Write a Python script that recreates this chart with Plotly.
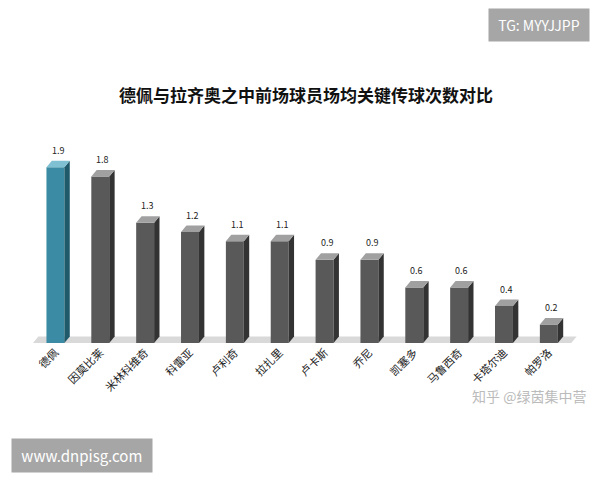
import plotly.graph_objects as go

players = ["德佩","因莫比莱","米林科维奇","科雷亚","卢利奇","拉扎里","卢卡斯","乔尼","凯塞多","马鲁西奇","卡塔尔迪","帕罗洛"]
values = [1.9,1.8,1.3,1.2,1.1,1.1,0.9,0.9,0.6,0.6,0.4,0.2]

front = ["#3a8ba3"] + ["#595959"]*(len(values)-1)
side = ["#1f5a6b"] + ["#333333"]*(len(values)-1)
top = ["#7fc0d2"] + ["#a0a0a0"]*(len(values)-1)

x = list(range(len(values)))
w = 0.4; dx = 0.12; dy = 0.07

fig = go.Figure(go.Bar(x=x, y=values, width=w, marker=dict(color=front, line=dict(width=0)),
                       text=[f"{v:.1f}" for v in values], textposition="none", hoverinfo="skip"))
shapes = []
shapes.append(dict(type="path", xref="x", yref="y", layer="below",
                   path=f"M {-0.5},0 L {len(values)-0.5},0 L {len(values)-0.5+dx},{dy} L {-0.5+dx},{dy} Z",
                   fillcolor="#d9d9d9", line=dict(width=0)))
ann = []
for i, v in enumerate(values):
    r = i + w/2; l = i - w/2
    shapes.append(dict(type="path", xref="x", yref="y",
        path=f"M {r},0 L {r+dx},{dy} L {r+dx},{v+dy} L {r},{v} Z", fillcolor=side[i], line=dict(width=0)))
    shapes.append(dict(type="path", xref="x", yref="y",
        path=f"M {l},{v} L {r},{v} L {r+dx},{v+dy} L {l+dx},{v+dy} Z", fillcolor=top[i], line=dict(width=0)))
    ann.append(dict(x=i+dx/2, y=v+dy, text=f"{v:.1f}", showarrow=False, yanchor="bottom",
                    yshift=2, font=dict(size=9, color="#222")))

ann += [
    dict(xref="paper", yref="paper", x=0.5, y=1.0, yshift=78, text="<b>德佩与拉齐奥之中前场球员场均关键传球次数对比</b>",
         showarrow=False, font=dict(size=17, family="Noto Sans CJK SC", color="#111")),
    dict(xref="paper", yref="paper", x=1.0, y=1.0, xshift=12, yshift=150, xanchor="right", text=" TG: MYYJJPP ",
         showarrow=False, bgcolor="#a6a6a6", font=dict(size=14, color="white"), borderpad=6),
    dict(xref="paper", yref="paper", x=0, y=0, xshift=-22, yshift=-130, xanchor="left", text=" www.dnpisg.com ",
         showarrow=False, bgcolor="#a6a6a6", font=dict(size=15, color="white"), borderpad=6),
    dict(xref="paper", yref="paper", x=1.0, y=0, xshift=10, yshift=-65, xanchor="right", text="知乎 @绿茵集中营",
         showarrow=False, font=dict(size=14, color="#bbbbbb", family="Noto Sans CJK SC")),
]

fig.update_layout(width=600, height=480, margin=dict(l=25, r=30, t=150, b=145),
    paper_bgcolor="white", plot_bgcolor="white", showlegend=False, shapes=shapes, annotations=ann,
    font=dict(family="Noto Sans CJK SC"),
    xaxis=dict(tickmode="array", tickvals=x, ticktext=players, tickangle=-45, range=[-0.5, len(values)-0.35],
               showgrid=False, zeroline=False, showline=False, tickfont=dict(size=11, color="#222")),
    yaxis=dict(range=[0, 2.0], visible=False))
fig.write_html("out.html")
